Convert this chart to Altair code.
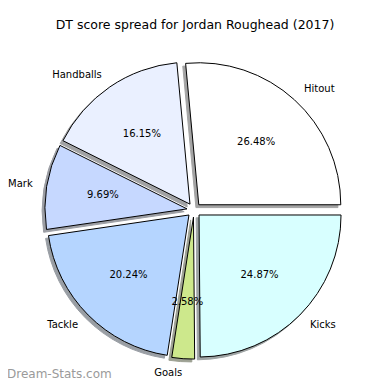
import altair as alt
import pandas as pd

labels = ["Hitout", "Handballs", "Mark", "Tackle", "Goals", "Kicks"]
shares = [26.48, 16.15, 9.69, 20.24, 2.58, 24.87]
colors = ["#ffffff", "#eaf0ff", "#c6d8ff", "#b5d5ff", "#cde88c", "#d8ffff"]
title_text = "DT score spread for Jordan Roughead (2017)"
watermark = "Dream-Stats.com"

# layout constants (chart pixel coordinates)
CX, CY, R = 186, 202, 142
EXPLODE = 0.05
SHADOW = 0.02


def darken(hexc, f=0.3):
    h = hexc.lstrip("#")
    r, g, b = (int(h[i:i + 2], 16) for i in (0, 2, 4))
    return "#%02x%02x%02x" % (int(r * f), int(g * f), int(b * f))


shadow_colors = [darken(c) for c in colors]

df = pd.DataFrame({"label": labels, "share": shares, "order": list(range(len(labels)))})

base = (
    alt.Chart(df)
    .transform_window(cum="sum(share)", sort=[alt.SortField("order")], frame=[None, 0])
    .transform_joinaggregate(total="sum(share)")
    .transform_calculate(fs="(datum.cum - datum.share) / datum.total")
    .transform_calculate(fe="datum.cum / datum.total")
    .transform_calculate(t1="PI / 2 - 2 * PI * datum.fe")
    .transform_calculate(t2="PI / 2 - 2 * PI * datum.fs")
    .transform_calculate(m="PI / 2 - PI * (datum.fs + datum.fe)")
    .transform_calculate(ux="sin(datum.m)")
    .transform_calculate(uy="-cos(datum.m)")
    .transform_calculate(cx=f"{CX} + {EXPLODE * R} * datum.ux")
    .transform_calculate(cy=f"{CY} + {EXPLODE * R} * datum.uy")
    .transform_calculate(sx=f"datum.cx - {SHADOW * R}")
    .transform_calculate(sy=f"datum.cy + {SHADOW * R}")
    .transform_calculate(lx=f"datum.cx + {1.1 * R} * datum.ux")
    .transform_calculate(ly=f"datum.cy + {1.1 * R} * datum.uy")
    .transform_calculate(px=f"datum.cx + {0.6 * R} * datum.ux")
    .transform_calculate(py=f"datum.cy + {0.6 * R} * datum.uy")
    .transform_calculate(pct="format(datum.share / datum.total * 100, '.2f') + '%'")
)

shadow = base.mark_arc(outerRadius=R, opacity=0.5, strokeWidth=1).encode(
    x=alt.X("sx:Q", scale=None, axis=None),
    y=alt.Y("sy:Q", scale=None, axis=None),
    theta=alt.Theta("t1:Q", scale=None),
    theta2="t2:Q",
    fill=alt.Fill("label:N", scale=alt.Scale(domain=labels, range=shadow_colors), legend=None),
    stroke=alt.Stroke("label:N", scale=alt.Scale(domain=labels, range=shadow_colors), legend=None),
)

slices = base.mark_arc(outerRadius=R, stroke="black", strokeWidth=1).encode(
    x=alt.X("cx:Q", scale=None, axis=None),
    y=alt.Y("cy:Q", scale=None, axis=None),
    theta=alt.Theta("t1:Q", scale=None),
    theta2="t2:Q",
    color=alt.Color("label:N", scale=alt.Scale(domain=labels, range=colors), legend=None),
)

txt = dict(font="DejaVu Sans", fontSize=10, color="black", baseline="middle")

labels_left = base.transform_filter("datum.lx > %d" % CX).mark_text(align="left", **txt).encode(
    x=alt.X("lx:Q", scale=None, axis=None),
    y=alt.Y("ly:Q", scale=None, axis=None),
    text="label:N",
)
labels_right = base.transform_filter("datum.lx <= %d" % CX).mark_text(align="right", **txt).encode(
    x=alt.X("lx:Q", scale=None, axis=None),
    y=alt.Y("ly:Q", scale=None, axis=None),
    text="label:N",
)
pcts = base.mark_text(align="center", **txt).encode(
    x=alt.X("px:Q", scale=None, axis=None),
    y=alt.Y("py:Q", scale=None, axis=None),
    text="pct:N",
)

title = alt.Chart(pd.DataFrame({"t": [title_text]})).mark_text(
    font="DejaVu Sans", fontSize=12.5, color="black", align="center", baseline="middle"
).encode(text="t:N", x=alt.value(187), y=alt.value(17))

wm = alt.Chart(pd.DataFrame({"t": [watermark]})).mark_text(
    font="DejaVu Sans", fontSize=12, color="#9a9a9a", align="left", baseline="middle"
).encode(text="t:N", x=alt.value(-1), y=alt.value(366))

chart = (
    alt.layer(shadow, slices, labels_left, labels_right, pcts, title, wm)
    .properties(width=374, height=374, autosize="none", padding=0)
    .configure_view(stroke=None)
)

chart.save("out.html", embed_options={"renderer": "svg", "actions": False})
